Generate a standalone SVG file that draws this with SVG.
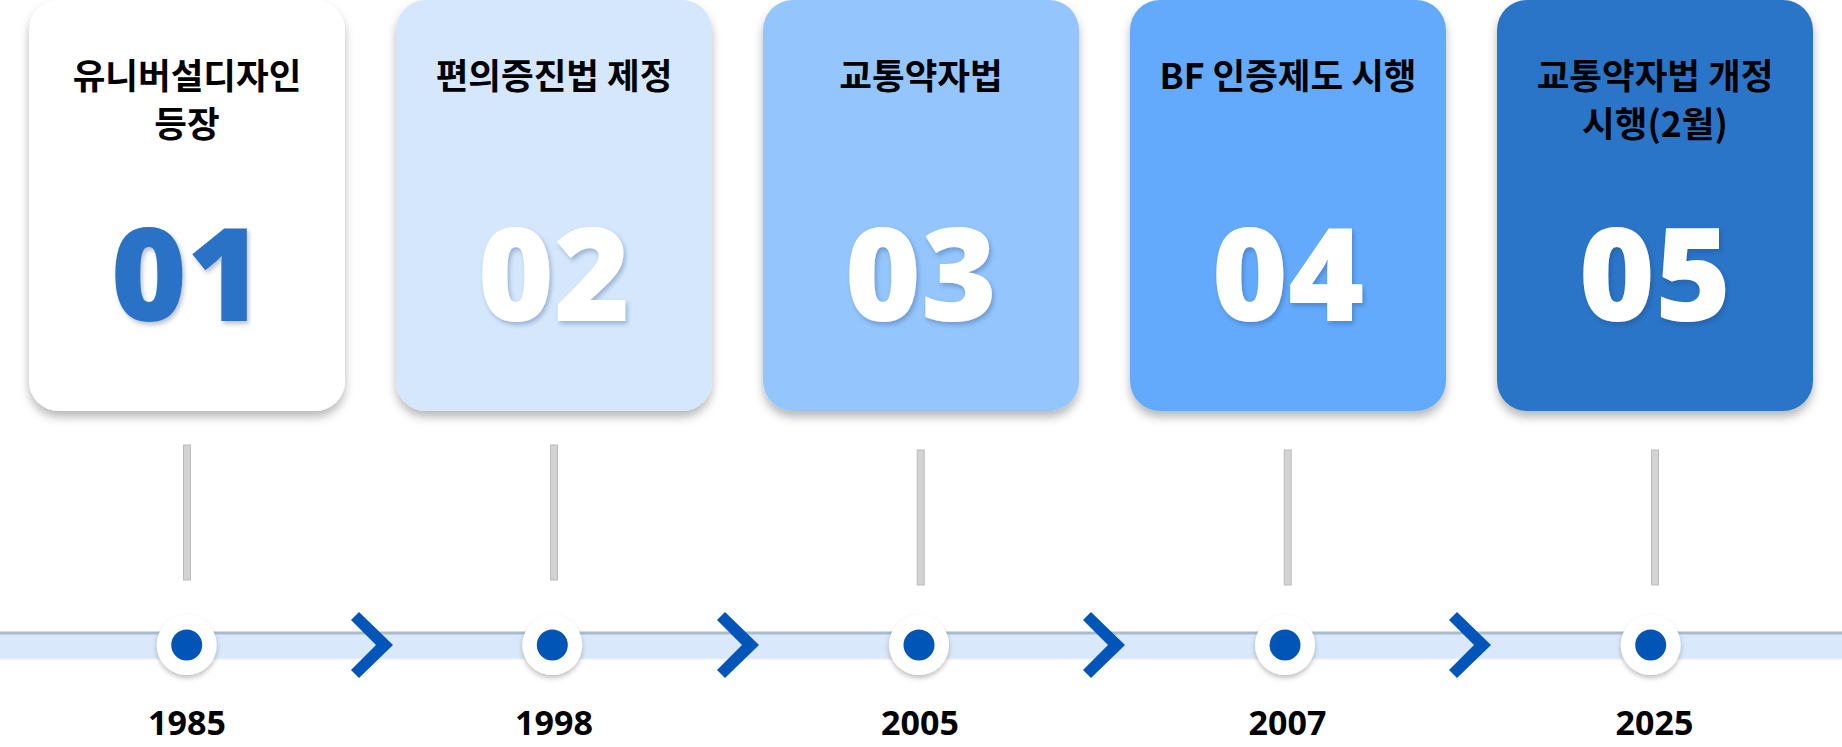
<svg xmlns="http://www.w3.org/2000/svg" width="1842" height="747" viewBox="0 0 1842 747">
<defs>
<filter id="cardShadow" x="-10%" y="-10%" width="120%" height="125%">
<feDropShadow dx="0" dy="6" stdDeviation="5" flood-color="#000" flood-opacity="0.28"/>
</filter>
<filter id="numShadow" x="-10%" y="-10%" width="125%" height="130%">
<feDropShadow dx="2" dy="3" stdDeviation="2" flood-color="#1a3a6a" flood-opacity="0.3"/>
</filter>
<filter id="dotShadow" x="-30%" y="-30%" width="160%" height="170%">
<feDropShadow dx="0" dy="3" stdDeviation="2.5" flood-color="#000" flood-opacity="0.25"/>
</filter>
</defs>
<style>
.card{filter:url(#cardShadow)}
.title{font-family:"Noto Sans CJK KR","Noto Sans",sans-serif;font-weight:700;font-size:35.5px;fill:#000;text-anchor:middle}
.num{font-family:"Open Sans","Noto Sans",sans-serif;font-weight:800;font-size:130px;text-anchor:middle;filter:url(#numShadow)}
.year{font-family:"Open Sans","Noto Sans",sans-serif;font-weight:700;font-size:34px;fill:#000;text-anchor:middle}
.stem{fill:#d3d3d3;stroke:#bcbcbc;stroke-width:1}
.chev{fill:#0055b8}
.ring{fill:#fff;filter:url(#dotShadow)}
.dot{fill:#0055b7}
</style>
<rect width="1842" height="747" fill="#fff"/>

<g id="timeline">
<rect x="0" y="632" width="1842" height="27" fill="#d9e9fb"/>
<rect x="0" y="631.5" width="1842" height="3" fill="#a9bbcd"/>
<rect x="0" y="658" width="1842" height="1.5" fill="#e6eef8"/>
</g>

<g id="connectors">
<rect class="stem" x="183.5" y="445" width="7" height="135"/>
<rect class="stem" x="550.5" y="445" width="7" height="135"/>
<rect class="stem" x="917.2" y="450" width="7" height="135"/>
<rect class="stem" x="1284.2" y="450" width="7" height="135"/>
<rect class="stem" x="1651.5" y="450" width="7" height="135"/>
<polygon class="chev" points="351,620 359,612 393,645 359,678 351,670 376,645"/>
<polygon class="chev" points="717,620 725,612 759,645 725,678 717,670 742,645"/>
<polygon class="chev" points="1083,620 1091,612 1125,645 1091,678 1083,670 1108,645"/>
<polygon class="chev" points="1449,620 1457,612 1491,645 1457,678 1449,670 1474,645"/>
</g>

<g id="node1">
<rect class="card" x="29" y="0" width="316" height="411" rx="30" fill="#ffffff"/>
<text class="title" x="187" y="89">유니버설디자인</text>
<text class="title" x="187" y="137">등장</text>
<text class="num" x="187" y="321" fill="#2a72c6">01</text>
<circle class="ring" cx="186.7" cy="645" r="30"/>
<circle class="dot" cx="186.7" cy="645" r="15.5"/>
<text class="year" x="187" y="735">1985</text>
</g>

<g id="node2">
<rect class="card" x="396" y="0" width="316" height="411" rx="30" fill="#d4e7fd"/>
<text class="title" x="554" y="89">편의증진법 제정</text>
<text class="num" x="554" y="321" fill="#ffffff">02</text>
<circle class="ring" cx="552.3" cy="645" r="30"/>
<circle class="dot" cx="552.3" cy="645" r="15.5"/>
<text class="year" x="554" y="735">1998</text>
</g>

<g id="node3">
<rect class="card" x="763" y="0" width="316" height="411" rx="30" fill="#94c5fd"/>
<text class="title" x="921" y="89">교통약자법</text>
<text class="num" x="921" y="321" fill="#ffffff">03</text>
<circle class="ring" cx="919" cy="645" r="30"/>
<circle class="dot" cx="919" cy="645" r="15.5"/>
<text class="year" x="920" y="735">2005</text>
</g>

<g id="node4">
<rect class="card" x="1130" y="0" width="316" height="411" rx="30" fill="#63aafd"/>
<text class="title" x="1288" y="89">BF 인증제도 시행</text>
<text class="num" x="1288" y="321" fill="#ffffff">04</text>
<circle class="ring" cx="1285" cy="645" r="30"/>
<circle class="dot" cx="1285" cy="645" r="15.5"/>
<text class="year" x="1287.5" y="735">2007</text>
</g>

<g id="node5">
<rect class="card" x="1497" y="0" width="316" height="411" rx="30" fill="#2b74c8"/>
<text class="title" x="1655" y="89">교통약자법 개정</text>
<text class="title" x="1655" y="137">시행(2월)</text>
<text class="num" x="1655" y="321" fill="#ffffff">05</text>
<circle class="ring" cx="1650.7" cy="645" r="30"/>
<circle class="dot" cx="1650.7" cy="645" r="15.5"/>
<text class="year" x="1654.5" y="735">2025</text>
</g>
</svg>
